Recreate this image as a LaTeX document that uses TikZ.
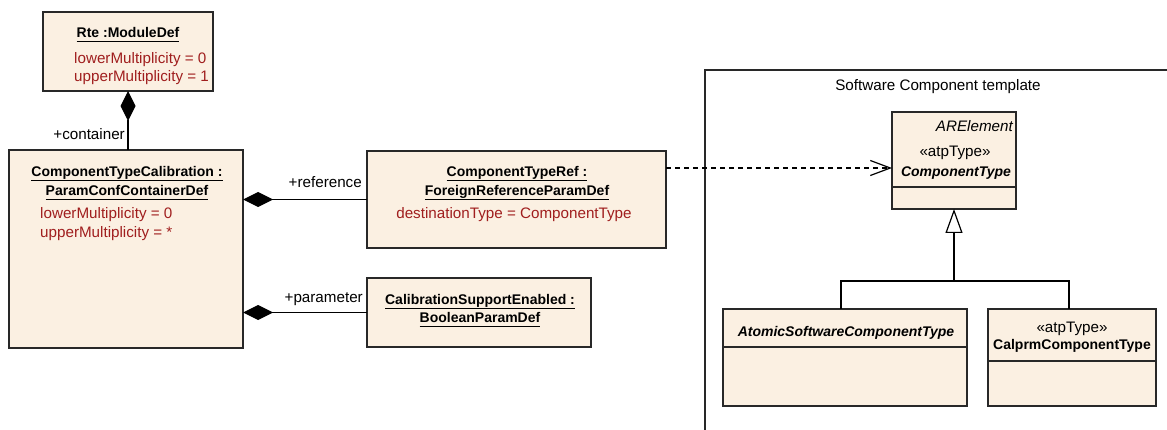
\documentclass[tikz,border=0pt]{standalone}
\usepackage{fontspec}
\setmainfont{Liberation Sans}
\usetikzlibrary{arrows.meta}
\definecolor{boxfill}{RGB}{251,240,226}
\definecolor{attr}{RGB}{160,30,30}
\definecolor{edge}{RGB}{40,40,40}
\newcommand\myul[1]{\setbox0\hbox{#1}\rlap{\rule[-4pt]{\wd0}{1pt}}\box0}
\begin{document}
\begin{tikzpicture}[x=1pt,y=-1pt,
  box/.style={draw=edge, line width=1.4pt, fill=boxfill, inner sep=0pt, outer sep=0pt, anchor=north west},
  txt/.style={inner sep=0pt, font=\fontsize{15.2}{18}\selectfont},
  ttl/.style={inner sep=0pt, font=\fontsize{14}{18}\selectfont\bfseries},
  att/.style={txt, text=attr},
  conn/.style={draw=black, line width=1.2pt},
  comp/.style={conn, -{Diamond[length=30pt,width=15pt,fill=black]}},
  dep/.style={conn, dash pattern=on 5pt off 4pt, -{Straight Barb[length=20pt,width=15pt]}},
  gen/.style={conn, -{Triangle[open,length=24pt,width=17pt,fill=white]}},
  divider/.style={draw=edge, line width=1.4pt}
]
\useasboundingbox (0,0) rectangle (1167,430);

% package frame
\draw[divider] (1170,70) -- (705,70) -- (705,432);
\node[txt, anchor=base] (pkg) at (938,91) {Software Component template};

% boxes
\node[box, minimum width=170pt, minimum height=79pt] (rte) at (43,12) {};
\node[box, minimum width=234pt, minimum height=198pt] (ctc) at (9,150) {};
\node[box, minimum width=299pt, minimum height=97pt] (ref) at (367,151) {};
\node[box, minimum width=224pt, minimum height=69pt] (cse) at (367,278) {};
\node[box, minimum width=124pt, minimum height=97pt] (ct) at (892,112) {};
\node[box, minimum width=244pt, minimum height=97pt] (asc) at (723,309) {};
\node[box, minimum width=168pt, minimum height=97pt] (calp) at (988,309) {};

% dividers
\draw[divider] (ct.west |- 0,187) -- (ct.east |- 0,187);
\draw[divider] (asc.west |- 0,347) -- (asc.east |- 0,347);
\draw[divider] (calp.west |- 0,361) -- (calp.east |- 0,361);

% texts
\node[ttl, anchor=base] (rteT) at (128,38) {\myul{Rte :ModuleDef}};
\node[att, anchor=base west] (rteA1) at (74,64) {lowerMultiplicity = 0};
\node[att, anchor=base west] (rteA2) at (74,82) {upperMultiplicity = 1};

\node[ttl, anchor=base] (ctcT1) at (127,177) {\myul{ComponentTypeCalibration :}};
\node[ttl, anchor=base] (ctcT2) at (127,196) {\myul{ParamConfContainerDef}};
\node[att, anchor=base west] (ctcA1) at (40,219) {lowerMultiplicity = 0};
\node[att, anchor=base west] (ctcA2) at (40,238) {upperMultiplicity = *};

\node[ttl, anchor=base] (refT1) at (517,177) {\myul{ComponentTypeRef :}};
\node[ttl, anchor=base] (refT2) at (517,196) {\myul{ForeignReferenceParamDef}};
\node[att, anchor=base] (refA1) at (514,219) {destinationType = ComponentType};

\node[ttl, anchor=base] (cseT1) at (480,305) {\myul{CalibrationSupportEnabled :}};
\node[ttl, anchor=base] (cseT2) at (480,323) {\myul{BooleanParamDef}};

\node[txt, anchor=base east] (ctS) at (1013,132) {\itshape ARElement};
\node[txt, anchor=base] (ctSt) at (955,157) {«atpType»};
\node[ttl, anchor=base] (ctN) at (956,177) {\itshape ComponentType};

\node[ttl, anchor=base] (ascN) at (846,336) {\itshape AtomicSoftwareComponentType};

\node[txt, anchor=base] (calpSt) at (1072,332) {«atpType»};
\node[ttl, anchor=base] (calpN) at (1072,349) {CalprmComponentType};

% connectors
\draw[comp] (rte.south |- ctc.north) -- (rte.south);
\node[txt, anchor=base east] (lcont) at (125,140) {+container};
\draw[comp] (ref.west) -- (ctc.east |- ref.west);
\node[txt, anchor=base east] (lref) at (362,188) {+reference};
\draw[comp] (cse.west) -- (ctc.east |- cse.west);
\node[txt, anchor=base east] (lpar) at (363,302) {+parameter};

\coordinate (dt) at ([yshift=-7.5pt]ct.west);
\draw[dep] (ref.east |- dt) -- (dt);

\coordinate (j) at (ct.south |- 0,281);
\draw[gen] (j) -- (ct.south);
\draw[conn] ([xshift=-4pt]asc.north) |- (j) -| ([xshift=-3pt]calp.north);
\end{tikzpicture}
\end{document}
